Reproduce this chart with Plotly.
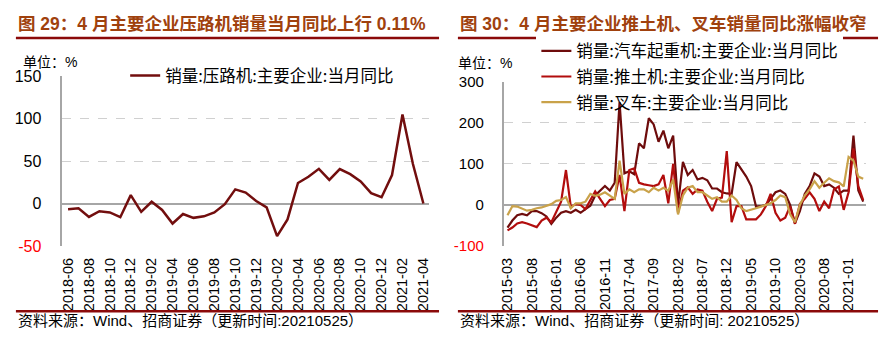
import pandas as pd
import plotly.graph_objects as go

# ---------------- data ----------------
left_months = [p.strftime("%Y-%m") for p in pd.period_range("2018-06", "2021-04", freq="M")]
roller_yoy = [-6.7, -5.6, -15.7, -9.0, -10.4, -16.0, 10.0, -9.7, 2.2, -7.5,
              -23.5, -12.3, -16.8, -15.0, -10.4, -0.7, 16.8, 13.0, 3.0, -4.5,
              -38.4, -18.7, 24.3, 31.7, 41.0, 28.0, 40.7, 34.7, 26.0, 12.3,
              7.5, 33.6, 104.9, 46.6, 0.11]

right_months = [p.strftime("%Y-%m") for p in pd.period_range("2015-03", "2021-04", freq="M")]
crane_yoy = [-55, -38, -25, -22, -25, -15, -15, -20, -28, -46,
             -31, -19, -15, -19, -12, -19, -10, -2, 23, 35,
             46, 35, 54, 250, 77, 82, 75, 150, 138, 211,
             196, 154, 181, 138, 169, 0, 105, 73, 85, 62,
             66, 60, 40, 40, 31, 28, 27, 104, 85, 69,
             46, -4, -3, 0, 15, 31, 35, 27, 0, -45,
             -15, 27, 46, 77, 69, 46, 50, 42, 27, 35,
             35, 169, 35, 8]
dozer_yoy = [-62, -55, -45, -42, -45, -50, -54, -38, -31, -42,
             -15, 8, 85, -5, 2, 0, -10, 10, 33, 15,
             -3, 12, 15, 73, -15, 85, 89, 54, 50, 48,
             46, 50, 73, 4, 100, -19, 35, 43, 27, 38,
             35, 8, -15, 15, 18, 131, -42, -3, -3, -35,
             -35, -35, -23, -3, 27, -19, -38, -31, -3, -46,
             2, 15, 31, 15, -15, 8, -8, 38, 45, -12,
             31, 138, 46, 12]
forklift_yoy = [-25, -3, -4, -10, -14, -12, -8, -6, -2, 2,
                10, 12, 19, -8, 4, 4, 8, 27, 22, 25,
                31, 23, 15, 108, 27, 38, 31, 38, 38, 31,
                42, 35, 42, 35, 62, -23, 23, 42, 46, 31,
                31, 23, 15, 19, 8, 8, 23, 12, -8, -15,
                -12, -8, -4, 0, 4, 12, 23, 19, -23, -42,
                0, 23, 38, 58, 42, 54, 65, 58, 55, 45,
                117, 108, 69, 64]

left_yticks = [-50, 0, 50, 100, 150]
right_yticks = [-100, 0, 100, 200, 300]

title_left = "图 29：4 月主要企业压路机销量当月同比上行 0.11%"
title_right = "图 30：4 月主要企业推土机、叉车销量同比涨幅收窄"
source_left = "资料来源：Wind、招商证券（更新时间:20210525）"
source_right = "资料来源：Wind、招商证券（更新时间: 20210525）"
unit_text = "单位：%"

# ---------------- style ----------------
W, H = 886, 347
FONT = "Liberation Sans, Arial, Noto Sans CJK SC"
CJK = "Noto Sans CJK SC, Liberation Sans"
TITLE_COLOR = "#A0410D"
RULE_COLOR = "#8B0A0A"
C_ROLLER = "#720E0E"
C_CRANE = "#6E0C0C"
C_DOZER = "#B20D0D"
C_FORK = "#C9A24A"
GRID = "#D0D0D0"
AXIS = "#A6A6A6"


def px_x(x):
    return x / W


def px_y(y):
    return 1 - y / H


def tick_text(vals):
    out = []
    for v in vals:
        if v < 0:
            out.append(f'<span style="color:#FF0000">{v}</span>')
        else:
            out.append(str(v))
    return out


fig = go.Figure()

fig.add_trace(go.Scatter(x=left_months, y=roller_yoy, mode="lines",
                         name="销量:压路机:主要企业:当月同比",
                         line=dict(color=C_ROLLER, width=2.5),
                         xaxis="x", yaxis="y", legend="legend"))
fig.add_trace(go.Scatter(x=right_months, y=crane_yoy, mode="lines",
                         name="销量:汽车起重机:主要企业:当月同比",
                         line=dict(color=C_CRANE, width=2.2),
                         xaxis="x2", yaxis="y2", legend="legend2"))
fig.add_trace(go.Scatter(x=right_months, y=dozer_yoy, mode="lines",
                         name="销量:推土机:主要企业:当月同比",
                         line=dict(color=C_DOZER, width=2.2),
                         xaxis="x2", yaxis="y2", legend="legend3"))
fig.add_trace(go.Scatter(x=right_months, y=forklift_yoy, mode="lines",
                         name="销量:叉车:主要企业:当月同比",
                         line=dict(color=C_FORK, width=2.2),
                         xaxis="x2", yaxis="y2", legend="legend4"))

xcommon = dict(type="category", showgrid=False, showline=False, zeroline=False,
               ticks="", tickangle=-90, tickfont=dict(family=FONT, size=14.5, color="#000"),
               ticklabelstandoff=8, fixedrange=True)
ycommon = dict(showgrid=True, gridcolor=GRID, griddash="dash", gridwidth=1,
               zeroline=True, zerolinecolor=AXIS, showline=True, linecolor=AXIS,
               linewidth=1.5, ticks="", fixedrange=True)

fig.update_layout(
    width=W, height=H,
    margin=dict(l=0, r=0, t=0, b=0),
    paper_bgcolor="white", plot_bgcolor="white",
    showlegend=True,
    xaxis=dict(**xcommon, domain=[px_x(58.7), px_x(427.5)], anchor="y",
               range=[-0.55, 34.5], tickmode="array", tickvals=left_months[::2],
               ticktext=left_months[::2]),
    yaxis=dict(**ycommon, domain=[1 - 250 / H, 1 - 71 / H], anchor="x",
               range=[-50, 150], tickmode="array", tickvals=left_yticks,
               ticktext=tick_text(left_yticks), zerolinewidth=1.5,
               tickfont=dict(family=FONT, size=16, color="#000"), ticklabelstandoff=16),
    xaxis2=dict(**xcommon, domain=[px_x(503), px_x(868)], anchor="y2",
                range=[-0.8, 73.6], tickmode="array", tickvals=right_months[::5],
                ticktext=right_months[::5]),
    yaxis2=dict(**ycommon, domain=[1 - 250 / H, 1 - 76.7 / H], anchor="x2",
                range=[-100, 300], tickmode="array", tickvals=right_yticks,
                ticktext=tick_text(right_yticks), zerolinewidth=2,
                tickfont=dict(family=FONT, size=15, color="#000"), ticklabelstandoff=15),
)

legend_common = dict(xanchor="left", yanchor="middle",
                     borderwidth=0, font=dict(family=CJK, size=16.5, color="#000"),
                     itemwidth=30, tracegroupgap=0)
fig.update_layout(
    legend=dict(**legend_common, x=px_x(122), y=px_y(70.5), bgcolor="white"),
    legend2=dict(**legend_common, x=px_x(536), y=px_y(44.5), bgcolor="white"),
    legend3=dict(**legend_common, x=px_x(536), y=px_y(71.5), bgcolor="white"),
    legend4=dict(**legend_common, x=px_x(536), y=px_y(98.5), bgcolor="rgba(0,0,0,0)"),
)

annotations = []
for txt, x in [(title_left, 12), (title_right, 457)]:
    annotations.append(dict(text=f"<b>{txt}</b>", x=px_x(x), y=px_y(16), xref="paper", yref="paper",
                            xanchor="left", yanchor="middle", showarrow=False,
                            font=dict(family=FONT, size=17.5, color=TITLE_COLOR)))
for x, y in [(17, 55.5), (455, 57)]:
    annotations.append(dict(text=unit_text, x=px_x(x), y=px_y(y), xref="paper", yref="paper",
                            xanchor="left", yanchor="middle", showarrow=False,
                            font=dict(family=FONT, size=14, color="#000")))
for txt, x in [(source_left, 12), (source_right, 457)]:
    annotations.append(dict(text=txt, x=px_x(x), y=px_y(329), xref="paper", yref="paper",
                            xanchor="left", yanchor="middle", showarrow=False,
                            font=dict(family=FONT, size=15, color="#000")))
fig.update_layout(annotations=annotations)

shapes = []
for x0, x1 in [(12, 438), (457, 880)]:
    for y in [30.5, 318.7]:
        shapes.append(dict(type="line", xref="paper", yref="paper",
                           x0=px_x(x0), x1=px_x(x1), y0=px_y(y), y1=px_y(y),
                           line=dict(color=RULE_COLOR, width=2.5)))
fig.update_layout(shapes=shapes)

fig.write_html("out.html")
